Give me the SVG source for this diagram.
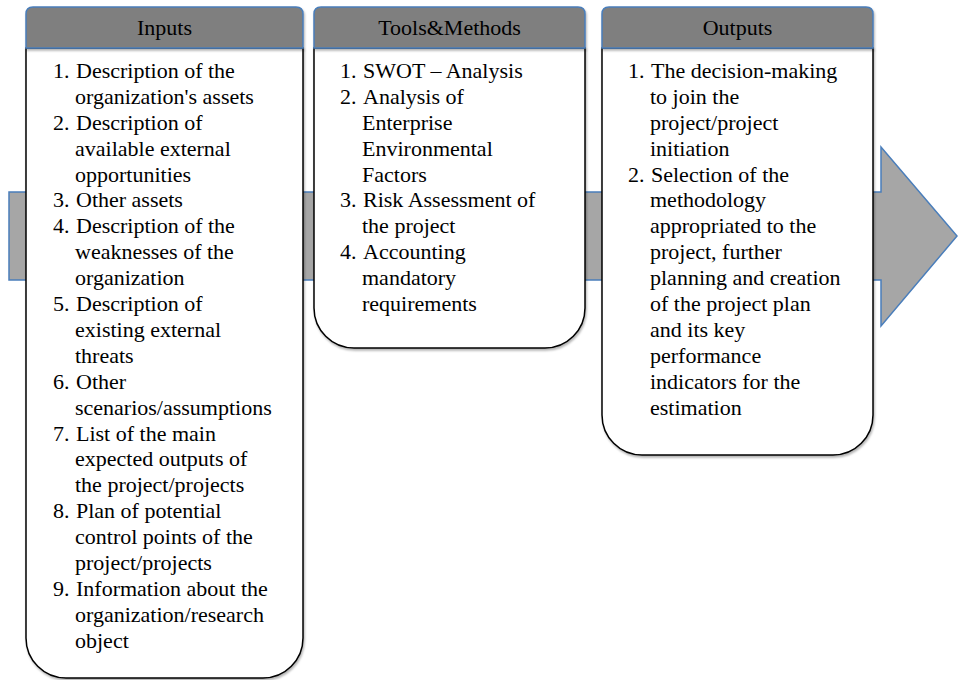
<svg xmlns="http://www.w3.org/2000/svg" width="958" height="680" viewBox="0 0 958 680">
<defs>
<filter id="sh" x="-10%" y="-10%" width="120%" height="120%">
<feDropShadow dx="1" dy="2" stdDeviation="1.2" flood-color="#000" flood-opacity="0.3"/>
</filter>
</defs>
<style>
.arrow{fill:#a6a6a6;stroke:#4a7ebb;stroke-width:1.5}
.head{fill:#7f7f7f;stroke:#4a7ebb;stroke-width:1.5;filter:url(#sh)}
.body{fill:#fff;stroke:#000;stroke-width:1.5;filter:url(#sh)}
.title{text-anchor:middle}
.t{font-family:'Liberation Serif','Times New Roman',Tinos,'Noto Serif','DejaVu Serif',serif;font-size:22px;fill:#000}
</style>
<rect width="958" height="680" fill="#fff"/>
<g id="connectors">
<path class="arrow" d="M9,192 H881 V147 L957,236 L881,326 V280 H9 Z"/>
</g>
<g class="t">
<g id="inputs">
<path class="body" d="M26,48 V638 A40,40 0 0 0 66,678 H263 A40,40 0 0 0 303,638 V48 Z"/>
<path class="head" d="M26,48 V14 Q26,7 33,7 H296 Q303,7 303,14 V48 Z"/>
<text class="title" x="164.5" y="35">Inputs</text>
<text x="53" y="78">1.</text><text x="76" y="78">Description of the</text>
<text x="75" y="104">organization's assets</text>
<text x="53" y="130">2.</text><text x="76" y="130">Description of</text>
<text x="75" y="156">available external</text>
<text x="75" y="182">opportunities</text>
<text x="53" y="207">3.</text><text x="76" y="207">Other assets</text>
<text x="53" y="233">4.</text><text x="76" y="233">Description of the</text>
<text x="75" y="259">weaknesses of the</text>
<text x="75" y="285">organization</text>
<text x="53" y="311">5.</text><text x="76" y="311">Description of</text>
<text x="75" y="337">existing external</text>
<text x="75" y="363">threats</text>
<text x="53" y="389">6.</text><text x="76" y="389">Other</text>
<text x="75" y="415">scenarios/assumptions</text>
<text x="53" y="441">7.</text><text x="76" y="441">List of the main</text>
<text x="75" y="466">expected outputs of</text>
<text x="75" y="492">the project/projects</text>
<text x="53" y="518">8.</text><text x="76" y="518">Plan of potential</text>
<text x="75" y="544">control points of the</text>
<text x="75" y="570">project/projects</text>
<text x="53" y="596">9.</text><text x="76" y="596">Information about the</text>
<text x="75" y="622">organization/research</text>
<text x="75" y="648">object</text>
</g>
<g id="tools">
<path class="body" d="M314,48 V308 A40,40 0 0 0 354,348 H545 A40,40 0 0 0 585,308 V48 Z"/>
<path class="head" d="M314,48 V14 Q314,7 321,7 H578 Q585,7 585,14 V48 Z"/>
<text class="title" x="449.5" y="35">Tools&amp;Methods</text>
<text x="340" y="78">1.</text><text x="363" y="78">SWOT – Analysis</text>
<text x="340" y="104">2.</text><text x="363" y="104">Analysis of</text>
<text x="362" y="130">Enterprise</text>
<text x="362" y="156">Environmental</text>
<text x="362" y="182">Factors</text>
<text x="340" y="207">3.</text><text x="363" y="207">Risk Assessment of</text>
<text x="362" y="233">the project</text>
<text x="340" y="259">4.</text><text x="363" y="259">Accounting</text>
<text x="362" y="285">mandatory</text>
<text x="362" y="311">requirements</text>
</g>
<g id="outputs">
<path class="body" d="M602,48 V415 A40,40 0 0 0 642,455 H833 A40,40 0 0 0 873,415 V48 Z"/>
<path class="head" d="M602,48 V14 Q602,7 609,7 H866 Q873,7 873,14 V48 Z"/>
<text class="title" x="737.5" y="35">Outputs</text>
<text x="628" y="78">1.</text><text x="651" y="78">The decision-making</text>
<text x="650" y="104">to join the</text>
<text x="650" y="130">project/project</text>
<text x="650" y="156">initiation</text>
<text x="628" y="182">2.</text><text x="651" y="182">Selection of the</text>
<text x="650" y="207">methodology</text>
<text x="650" y="233">appropriated to the</text>
<text x="650" y="259">project, further</text>
<text x="650" y="285">planning and creation</text>
<text x="650" y="311">of the project plan</text>
<text x="650" y="337">and its key</text>
<text x="650" y="363">performance</text>
<text x="650" y="389">indicators for the</text>
<text x="650" y="415">estimation</text>
</g>
</g>
</svg>
